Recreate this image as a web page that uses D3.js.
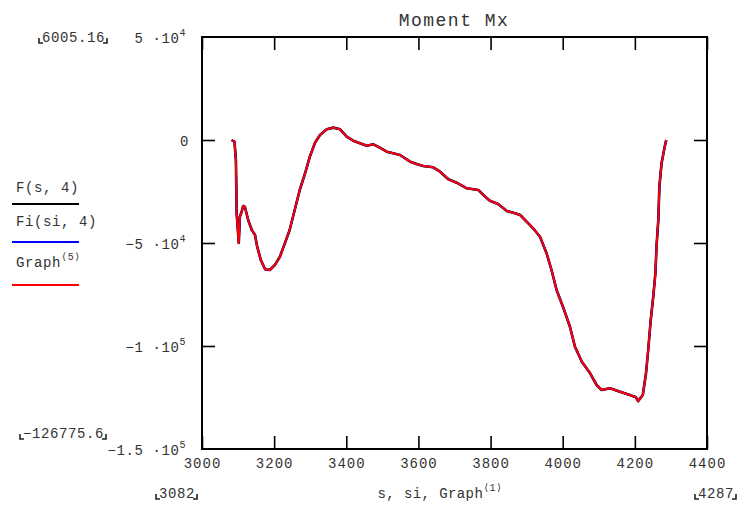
<!DOCTYPE html>
<html>
<head>
<meta charset="utf-8">
<script src="https://cdn.jsdelivr.net/npm/d3@7"></script>
<style>
  body { margin: 0; background: #fff; }
  text { font-family: "Liberation Mono", "DejaVu Sans Mono", monospace; fill: #333; }
</style>
</head>
<body>
<svg id="chart" width="740" height="506"></svg>
<script>
// s positions along the member and bending moment Mx
const s = [3082, 3090, 3094, 3096, 3102, 3105, 3110, 3114, 3119, 3128, 3138, 3147, 3153, 3163, 3175, 3188,
  3202, 3216, 3230, 3243, 3257, 3271, 3286, 3299, 3313, 3327, 3346, 3364, 3383, 3401, 3419, 3438,
  3457, 3475, 3493, 3512, 3530, 3549, 3577, 3595, 3613, 3641, 3660, 3683, 3706, 3734, 3766, 3780,
  3798, 3821, 3845, 3868, 3882, 3900, 3918, 3937, 3955, 3969, 3983, 4002, 4020, 4034, 4053, 4076,
  4094, 4108, 4131, 4159, 4186, 4203, 4209, 4222, 4231, 4237, 4244, 4251, 4257, 4260, 4265, 4268,
  4274, 4281, 4285, 4287];
const mx = [0, -826, -9709, -35437, -50000, -37233, -34806, -32039, -32525, -38835, -43690, -46117, -51797, -58253, -62768, -63107,
  -60680, -56651, -50000, -43690, -33981, -24272, -16020, -8107, -1457, 2427, 5194, 6005, 5194, 1602, -340, -1602,
  -2767, -2087, -3738, -5680, -6456, -7282, -10534, -11650, -12621, -13253, -15389, -19078, -20728, -23447, -24272, -26700,
  -29467, -31068, -34467, -35583, -36408, -39660, -42864, -46942, -54855, -63107, -72816, -81554, -90632, -100341, -107623, -113254,
  -118933, -121360, -120535, -122186, -123788, -124904, -126776, -123788, -113107, -101942, -87379, -76069, -64564, -51797, -38835, -22670,
  -11310, -4855, -1500, 0];

const xTicks = [3000, 3200, 3400, 3600, 3800, 4000, 4200, 4400];
const yTicks = [50000, 0, -50000, -100000, -150000];
const yTickLabels = [["5 ·10", "4"], ["0", ""], ["\u22125 ·10", "4"], ["\u22121 ·10", "5"], ["\u22121.5 ·10", "5"]];

const series = [
  {name: "F(s, 4)", sup: "", color: "#000", width: 2.6},
  {name: "Fi(si, 4)", sup: "", color: "#0000ff", width: 2},
  {name: "Graph", sup: "\u27e85\u27e9", color: "#ff0000", width: 2}
];

const svg = d3.select("#chart");
const plotL = 202, plotR = 707, plotT = 37, plotB = 449;

const x = d3.scaleLinear().domain([3000, 4400]).range([plotL, plotR]);
const y = d3.scaleLinear().domain([-150000, 50000]).range([plotB, plotT]);

// Title
svg.append("text")
  .attr("x", 454).attr("y", 26)
  .attr("text-anchor", "middle")
  .style("font-size", "18px").style("letter-spacing", "1.5px")
  .text("Moment Mx");

// Ticks on all four sides, pointing inward
const inner = [0, -50000, -100000];
svg.append("g").attr("transform", `translate(0,${plotB})`)
  .call(d3.axisBottom(x).tickValues(xTicks).tickSize(-13).tickPadding(9).tickFormat(d3.format("d")))
  .call(g => g.select(".domain").remove())
  .call(g => g.selectAll("line").attr("stroke-width", 1.6))
  .call(g => g.selectAll("text").style("font-size", "14px").style("letter-spacing", "1px")
    .style("font-family", "Liberation Mono").attr("fill", "#333"));
svg.append("g").attr("transform", `translate(0,${plotT})`)
  .call(d3.axisTop(x).tickValues(xTicks).tickSize(-13).tickFormat(""))
  .call(g => g.select(".domain").remove())
  .call(g => g.selectAll("line").attr("stroke-width", 1.6));
svg.append("g").attr("transform", `translate(${plotL},0)`)
  .call(d3.axisLeft(y).tickValues(inner).tickSize(-13).tickFormat(""))
  .call(g => g.select(".domain").remove())
  .call(g => g.selectAll("line").attr("stroke-width", 1.6));
svg.append("g").attr("transform", `translate(${plotR},0)`)
  .call(d3.axisRight(y).tickValues(inner).tickSize(-13).tickFormat(""))
  .call(g => g.select(".domain").remove())
  .call(g => g.selectAll("line").attr("stroke-width", 1.6));

// Frame
svg.append("rect")
  .attr("x", plotL).attr("y", plotT)
  .attr("width", plotR - plotL).attr("height", plotB - plotT)
  .attr("fill", "none").attr("stroke", "#000").attr("stroke-width", 2);

// Y tick labels with exponents
yTicks.forEach((v, i) => {
  const [base, exp] = yTickLabels[i];
  const t = svg.append("text")
    .attr("x", exp ? 186 : 189).attr("y", y(v) + 5.5)
    .attr("text-anchor", "end")
    .style("font-size", "14px").style("letter-spacing", "0.6px");
  t.append("tspan").text(base);
  if (exp) t.append("tspan").attr("dy", -7).style("font-size", "10px").text(exp);
});

// Lines
const line = d3.line().x((d, i) => x(s[i])).y(d => y(d));
series.forEach(sr => {
  svg.append("path")
    .datum(mx)
    .attr("d", line)
    .attr("fill", "none")
    .attr("stroke", sr.color)
    .attr("stroke-width", sr.width)
    .attr("stroke-linejoin", "round");
});

// Legend
const legY = [192, 226, 267];
const legLineY = [204, 242, 285];
series.forEach((sr, i) => {
  const t = svg.append("text").attr("x", 16).attr("y", legY[i])
    .style("font-size", "14px").style("letter-spacing", "0.6px");
  t.append("tspan").text(sr.name);
  if (sr.sup) t.append("tspan").attr("dy", -7).style("font-size", "10px").text(sr.sup);
  svg.append("line")
    .attr("x1", 12).attr("x2", 79)
    .attr("y1", legLineY[i]).attr("y2", legLineY[i])
    .attr("stroke", sr.color).attr("stroke-width", 2);
});

// Range markers with corner brackets
function marker(textX, baseY, label, anchor) {
  const t = svg.append("text")
    .attr("x", textX).attr("y", baseY)
    .attr("text-anchor", anchor)
    .style("font-size", "14px").style("letter-spacing", "0.6px")
    .text(label);
  const bb = t.node().getBBox();
  const x0 = bb.x - 3, x1 = bb.x + bb.width + 2, yb = baseY + 1;
  svg.append("path")
    .attr("d", `M${x0},${yb - 5}V${yb}H${x0 + 4}M${x1 - 4},${yb}H${x1}V${yb - 5}`)
    .attr("fill", "none").attr("stroke", "#222").attr("stroke-width", 1.6);
}
marker(105, 42, "6005.16", "end");
marker(104, 438, "\u2212126775.6", "end");
marker(159, 498, String(s[0]), "start");
marker(734, 498, String(s[s.length - 1]), "end");

// X axis title
const xt = svg.append("text").attr("x", 440).attr("y", 498)
  .attr("text-anchor", "middle")
  .style("font-size", "14px").style("letter-spacing", "0.4px");
xt.append("tspan").text("s, si, Graph");
xt.append("tspan").attr("dy", -7).style("font-size", "10px").text("\u27e81\u27e9");
</script>
</body>
</html>
